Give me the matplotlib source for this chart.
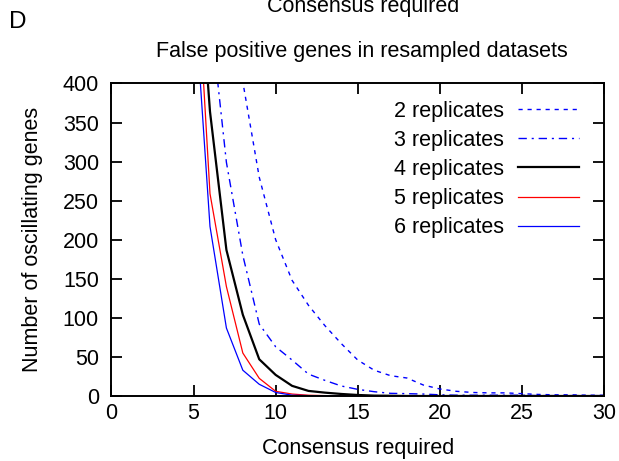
import matplotlib
matplotlib.use("Agg")
import matplotlib.pyplot as plt

plt.rcParams["font.family"] = ["Liberation Sans", "DejaVu Sans"]

# consensus required (x) and false positive counts per number of replicates
consensus = list(range(5, 31))
rep2 = [900, 650, 520, 402, 280, 200, 148, 116, 90, 67, 46, 33, 26, 23, 14, 9,
        6, 4.5, 4, 4, 3, 2, 1.5, 1.5, 1, 1]
rep3 = [700, 493, 299, 180, 92, 63, 46, 28, 20, 12.8, 8.5, 5.5, 3.4, 3, 2.5, 1.5,
        1, 1, 1, 1, 1, 0.5, 0.5, 0.5, 0.5, 0.5]
rep4 = [650, 364, 187, 104, 47, 27, 13, 6.5, 4.3, 2.6, 1.3, 0.5, 0.3, 0, 0, 0,
        0, 0, 0, 0, 0, 0, 0, 0, 0, 0]
rep5 = [622, 259, 140, 55, 22.6, 6, 2.5, 1, 0.5, 0, 0, 0, 0, 0, 0, 0,
        0, 0, 0, 0, 0, 0, 0, 0, 0, 0]
rep6 = [530, 217, 87, 33, 15, 4.5, 1, 0.5, 0, 0, 0, 0, 0, 0, 0, 0,
        0, 0, 0, 0, 0, 0, 0, 0, 0, 0]

fs = 15.5

fig = plt.figure(figsize=(6.19, 4.61), dpi=100)
ax = fig.add_axes([0.1801, 0.141, 0.7957, 0.678])

ax.plot(consensus, rep2, color="blue", lw=1.0, dashes=(3, 3.5), label="2 replicates")
ax.plot(consensus, rep3, color="blue", lw=1.0, dashes=(6, 3.5, 1.5, 3.5), label="3 replicates")
ax.plot(consensus, rep4, color="black", lw=1.6, label="4 replicates")
ax.plot(consensus, rep5, color="red", lw=0.9, label="5 replicates")
ax.plot(consensus, rep6, color="blue", lw=0.9, label="6 replicates")

ax.set_xlim(0, 30)
ax.set_ylim(0, 400)
ax.set_xticks(range(0, 31, 5))
ax.set_yticks(range(0, 401, 50))

# gnuplot style: inward ticks on all four sides
ax.tick_params(direction="in", length=7.7, width=1.3, labelsize=fs,
               top=True, right=True)
ax.tick_params(axis="x", pad=5)
ax.tick_params(axis="y", pad=9)
for s in ax.spines.values():
    s.set_linewidth(1.4)

ax.set_xlabel("Consensus required", fontsize=fs, labelpad=10)
ax.set_ylabel("Number of oscillating genes", fontsize=fs, labelpad=14)

ax.legend(loc="upper right", bbox_to_anchor=(0.95, 0.945), frameon=False,
          markerfirst=False, fontsize=fs, handlelength=2.85, handletextpad=0.65,
          labelspacing=0.38, borderaxespad=0, borderpad=0)

fig.text(0.585, 1 - 57 / 461, "False positive genes in resampled datasets",
         ha="center", va="baseline", fontsize=fs)
fig.text(0.587, 1 - 12 / 461, "Consensus required",
         ha="center", va="baseline", fontsize=fs)
fig.text(0.014, 1 - 28 / 461, "D", ha="left", va="baseline", fontsize=17.5)

fig.savefig("out.png", dpi=100)
